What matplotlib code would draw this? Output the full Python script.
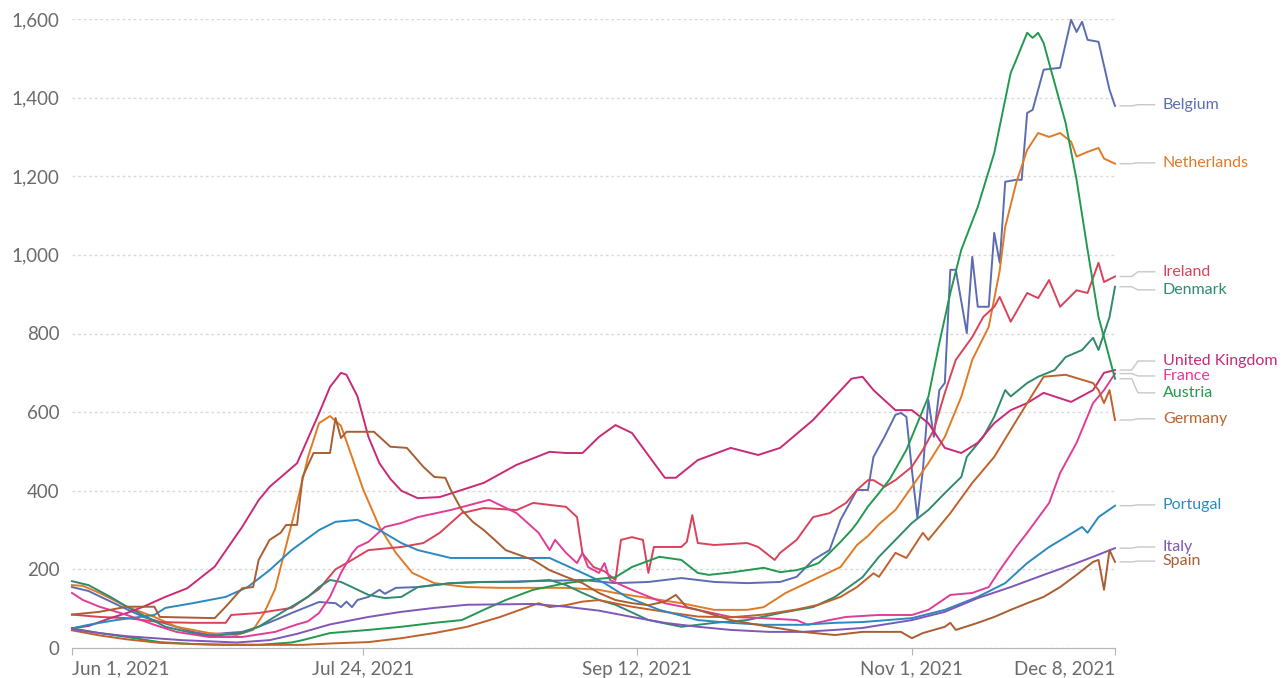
import matplotlib.pyplot as plt
import numpy as np

plt.rcParams['font.family'] = ['Lato', 'DejaVu Sans']

# day offsets from Jun 1, 2021 and daily new cases per million (7-day avg)
belgium_days = [0, 3, 9, 13, 19, 22, 25, 28, 31, 34, 37, 40, 45, 48, 49, 50, 51, 52, 54, 56, 57, 59, 63, 69, 75, 84, 93, 99, 105, 111, 117, 123, 129, 132, 135, 138, 140, 143, 145, 146, 148, 150, 151, 152, 153, 154, 155, 156, 157, 158, 159, 160, 161, 163, 164, 165, 167, 168, 169, 170, 172, 173, 174, 175, 177, 180, 182, 183, 184, 185, 187, 189, 190]
belgium = [155, 145, 105, 79, 54, 41, 34, 38, 41, 54, 71, 89, 117, 114, 104, 118, 104, 122, 130, 148, 138, 153, 155, 165, 168, 170, 173, 165, 168, 178, 168, 165, 168, 181, 224, 249, 326, 402, 402, 486, 537, 593, 598, 588, 453, 331, 453, 631, 537, 656, 674, 962, 962, 801, 995, 868, 868, 1056, 980, 1186, 1191, 1191, 1361, 1369, 1471, 1476, 1598, 1567, 1593, 1547, 1542, 1420, 1379]

netherlands_days = [0, 2, 5, 10, 15, 19, 25, 30, 33, 35, 37, 39, 41, 43, 45, 47, 49, 51, 53, 56, 59, 62, 66, 72, 78, 84, 90, 96, 99, 105, 111, 117, 123, 126, 130, 135, 140, 143, 145, 147, 150, 153, 156, 159, 162, 164, 167, 169, 170, 172, 174, 176, 178, 180, 182, 183, 185, 187, 188, 190]
netherlands = [160, 158, 140, 105, 79, 54, 38, 33, 46, 89, 150, 260, 370, 486, 572, 590, 565, 486, 405, 308, 242, 191, 165, 155, 153, 153, 153, 148, 140, 127, 114, 97, 97, 104, 140, 173, 206, 262, 285, 315, 351, 410, 470, 537, 639, 733, 817, 960, 1071, 1183, 1267, 1310, 1300, 1310, 1288, 1250, 1262, 1272, 1245, 1232]

ireland_days = [0, 5, 10, 16, 22, 28, 29, 34, 40, 45, 48, 51, 54, 60, 64, 67, 71, 75, 81, 84, 87, 90, 92, 93, 95, 97, 99, 100, 102, 104, 105, 106, 111, 112, 113, 114, 117, 123, 125, 128, 129, 132, 135, 138, 141, 143, 145, 146, 148, 150, 153, 155, 157, 159, 161, 164, 166, 168, 169, 171, 174, 176, 178, 180, 183, 185, 187, 188, 190]
ireland = [85, 79, 76, 66, 64, 64, 84, 89, 102, 150, 200, 224, 249, 257, 267, 293, 343, 356, 351, 369, 364, 359, 333, 240, 206, 195, 173, 275, 282, 275, 191, 257, 257, 270, 338, 267, 262, 267, 257, 224, 242, 275, 333, 343, 369, 402, 427, 427, 410, 427, 461, 504, 555, 649, 733, 791, 842, 868, 893, 830, 903, 890, 936, 868, 910, 903, 980, 931, 945]

denmark_days = [0, 3, 7, 10, 14, 17, 22, 25, 31, 34, 39, 43, 45, 47, 49, 51, 54, 57, 60, 63, 69, 75, 81, 87, 90, 93, 96, 99, 105, 111, 117, 123, 129, 135, 139, 141, 144, 147, 150, 153, 156, 159, 162, 163, 166, 168, 170, 171, 174, 176, 179, 181, 184, 186, 187, 189, 190]
denmark = [170, 160, 130, 105, 76, 54, 38, 30, 38, 54, 97, 130, 155, 173, 168, 155, 135, 127, 130, 155, 165, 168, 168, 173, 160, 140, 122, 110, 71, 54, 64, 71, 89, 104, 130, 150, 180, 232, 275, 318, 351, 394, 435, 486, 537, 588, 656, 640, 674, 690, 707, 740, 758, 789, 758, 842, 919]

uk_days = [0, 3, 7, 10, 13, 17, 21, 26, 31, 34, 36, 41, 45, 47, 49, 50, 52, 54, 56, 58, 60, 63, 67, 75, 81, 87, 90, 93, 96, 99, 102, 108, 110, 114, 120, 125, 129, 135, 140, 142, 144, 146, 150, 153, 156, 159, 162, 165, 168, 171, 174, 177, 182, 186, 188, 190]
uk = [50, 56, 76, 89, 105, 130, 152, 207, 308, 376, 410, 470, 597, 664, 700, 695, 640, 537, 470, 430, 400, 381, 384, 420, 466, 499, 496, 496, 537, 567, 547, 433, 433, 478, 509, 491, 509, 580, 655, 685, 690, 656, 605, 605, 572, 509, 496, 522, 572, 605, 623, 649, 626, 656, 700, 707]

france_days = [0, 2, 5, 10, 15, 19, 25, 31, 37, 41, 43, 45, 47, 49, 51, 52, 54, 57, 60, 63, 69, 76, 81, 85, 87, 88, 90, 92, 93, 94, 96, 97, 98, 102, 108, 114, 120, 126, 132, 134, 138, 141, 147, 153, 156, 160, 164, 167, 169, 172, 174, 178, 180, 183, 186, 188, 190]
france = [140, 122, 105, 84, 59, 41, 28, 28, 41, 60, 68, 89, 130, 191, 240, 257, 270, 308, 318, 333, 351, 377, 343, 293, 249, 275, 242, 216, 242, 206, 191, 216, 173, 148, 114, 97, 79, 76, 71, 59, 71, 79, 84, 84, 97, 135, 140, 155, 198, 257, 293, 369, 445, 522, 623, 656, 698]

austria_days = [0, 5, 10, 16, 22, 28, 34, 40, 42, 47, 54, 60, 66, 71, 75, 79, 84, 90, 96, 99, 102, 107, 111, 114, 116, 120, 123, 126, 129, 132, 134, 136, 138, 140, 142, 143, 145, 147, 149, 152, 156, 158, 160, 162, 165, 168, 171, 172, 174, 175, 176, 177, 179, 181, 183, 185, 187, 188, 190]
austria = [50, 38, 28, 15, 10, 8, 8, 14, 20, 38, 46, 54, 64, 71, 97, 122, 148, 165, 176, 180, 206, 232, 224, 191, 186, 192, 198, 204, 193, 198, 206, 216, 242, 270, 300, 318, 360, 394, 430, 504, 639, 776, 903, 1013, 1122, 1259, 1463, 1496, 1565, 1552, 1565, 1539, 1437, 1336, 1191, 1013, 842, 790, 685]

germany_days = [0, 5, 10, 16, 25, 35, 42, 48, 54, 60, 66, 72, 78, 83, 85, 87, 90, 93, 96, 102, 108, 114, 120, 126, 132, 136, 140, 143, 146, 147, 150, 152, 155, 156, 160, 164, 168, 171, 174, 177, 181, 186, 187, 188, 189, 190]
germany = [45, 32, 22, 13, 9, 8, 8, 12, 15, 25, 38, 54, 79, 104, 114, 104, 109, 118, 122, 105, 92, 80, 78, 85, 98, 110, 130, 155, 190, 181, 242, 229, 293, 275, 343, 420, 486, 555, 623, 690, 695, 674, 656, 623, 656, 580]

portugal_days = [0, 3, 8, 15, 17, 22, 28, 32, 36, 40, 45, 48, 52, 56, 60, 63, 69, 75, 84, 87, 90, 93, 97, 101, 107, 114, 120, 126, 133, 139, 144, 153, 159, 165, 170, 174, 178, 181, 184, 185, 187, 190]
portugal = [50, 59, 71, 84, 102, 114, 130, 155, 198, 249, 300, 321, 326, 300, 267, 249, 229, 229, 229, 229, 210, 191, 165, 130, 97, 71, 64, 59, 59, 64, 66, 76, 97, 130, 165, 216, 257, 282, 308, 293, 333, 362]

italy_days = [0, 5, 10, 20, 30, 36, 41, 47, 54, 60, 66, 72, 84, 90, 96, 102, 108, 114, 120, 127, 133, 139, 144, 153, 159, 165, 171, 177, 183, 186, 190]
italy = [48, 38, 30, 20, 14, 20, 36, 60, 79, 92, 102, 110, 112, 105, 95, 79, 64, 54, 46, 41, 41, 46, 51, 71, 92, 127, 155, 186, 216, 232, 254]

spain_days = [0, 5, 10, 15, 16, 26, 28, 31, 33, 34, 36, 38, 39, 41, 42, 44, 47, 48, 49, 50, 55, 58, 61, 64, 66, 68, 69, 71, 73, 75, 77, 79, 84, 87, 90, 93, 96, 99, 102, 105, 108, 110, 112, 114, 120, 127, 133, 139, 144, 151, 153, 155, 159, 160, 161, 165, 168, 171, 174, 177, 180, 183, 186, 187, 188, 189, 190]
spain = [85, 92, 105, 105, 79, 76, 105, 152, 155, 224, 275, 293, 313, 313, 435, 496, 496, 585, 534, 550, 550, 512, 509, 461, 435, 433, 402, 351, 321, 300, 275, 249, 224, 198, 181, 165, 140, 122, 114, 109, 118, 135, 104, 97, 71, 54, 41, 33, 41, 41, 25, 38, 54, 64, 46, 64, 79, 97, 114, 130, 155, 186, 219, 224, 148, 249, 219]

countries = ['Belgium', 'Netherlands', 'Ireland', 'Denmark', 'United Kingdom', 'France',
             'Austria', 'Germany', 'Portugal', 'Italy', 'Spain']
series = [(belgium_days, belgium), (netherlands_days, netherlands), (ireland_days, ireland),
          (denmark_days, denmark), (uk_days, uk), (france_days, france), (austria_days, austria),
          (germany_days, germany), (portugal_days, portugal), (italy_days, italy), (spain_days, spain)]
colors = ['#5b6cb2', '#e07a26', '#d9435a', '#2f8a70', '#c92a76', '#df3d97',
          '#22994e', '#c0612b', '#2a8abf', '#7e57b8', '#a95e32']
# where each end label sits (value scale)
label_y = [1382, 1234, 957, 911, 730, 692, 649, 583, 364, 257, 221]

tick_dates = ['2021-06-01', '2021-07-24', '2021-09-12', '2021-11-01', '2021-12-08']
tick_labels = ['Jun 1, 2021', 'Jul 24, 2021', 'Sep 12, 2021', 'Nov 1, 2021', 'Dec 8, 2021']

fig = plt.figure(figsize=(12.86, 6.78), dpi=100)
ax = fig.add_axes([72 / 1286, 30 / 678, 1043 / 1286, 629 / 678])

for (d, v), c in zip(series, colors):
    ax.plot(d, v, color=c, lw=1.4, solid_joinstyle='round', clip_on=False)

ax.set_xlim(0, 190)
ax.set_ylim(0, 1600)

ticks = (np.array(tick_dates, dtype='datetime64[D]') - np.datetime64('2021-06-01')).astype(int)
ax.set_xticks(ticks)
ax.set_xticklabels(tick_labels)
xl = ax.get_xticklabels()
xl[0].set_ha('left')
xl[-1].set_ha('right')

ax.set_yticks(range(0, 1601, 200))
ax.set_yticklabels([f'{v:,}' for v in range(0, 1601, 200)])
ax.grid(axis='y', color='#d9d9d9', linestyle=(0, (2, 2)), lw=1)
ax.set_axisbelow(True)

for s in ['top', 'right', 'left']:
    ax.spines[s].set_visible(False)
ax.spines['bottom'].set_color('#b5b5b5')
ax.tick_params(axis='y', length=0, pad=9, labelsize=13.5, labelcolor='#6b6b6b')
ax.tick_params(axis='x', length=5, color='#b5b5b5', pad=4, labelsize=13.5, labelcolor='#6b6b6b')

# end labels with grey connectors
trans = ax.get_yaxis_transform()
for (d, v), c, name, ly in zip(series, colors, countries, label_y):
    ax.plot([1.005, 1.016, 1.022, 1.038], [v[-1], v[-1], ly, ly], transform=trans,
            color='#c8c8c8', lw=1, clip_on=False)
    ax.text(1.046, ly, name, transform=trans, color=c, fontsize=11.5, va='center', ha='left')

fig.savefig('out.png', dpi=100)
